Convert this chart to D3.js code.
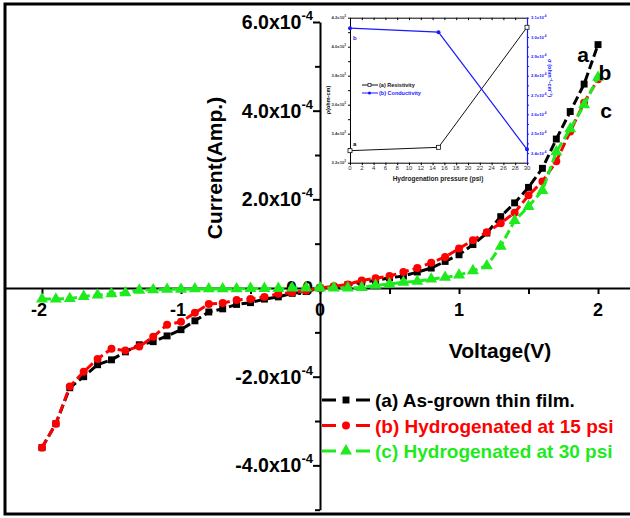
<!DOCTYPE html>
<html lang="en">
<head>
<meta charset="utf-8">
<script src="https://cdnjs.cloudflare.com/ajax/libs/d3/7.8.5/d3.min.js"></script>
<style>
  body { margin: 0; background: #fff; }
  svg { display: block; font-family: "Liberation Sans", Arial, sans-serif; font-weight: bold; }
</style>
</head>
<body>
<script>
// Main I-V data (current in units of 1e-4 A)
var voltage = [-2.0,-1.9,-1.8,-1.7,-1.6,-1.5,-1.4,-1.3,-1.2,-1.1,-1.0,-0.9,-0.8,-0.7,-0.6,-0.5,-0.4,-0.3,-0.2,-0.1,
               0.0,0.1,0.2,0.3,0.4,0.5,0.6,0.7,0.8,0.9,1.0,1.1,1.2,1.3,1.4,1.5,1.6,1.7,1.8,1.9,2.0];
var asGrown = [-3.60,-3.06,-2.25,-2.00,-1.73,-1.62,-1.44,-1.28,-1.21,-1.08,-0.94,-0.74,-0.54,-0.47,-0.37,-0.33,-0.25,-0.20,-0.12,-0.08,
               0.00,0.02,0.07,0.13,0.17,0.23,0.27,0.36,0.45,0.60,0.75,0.98,1.24,1.61,1.92,2.27,2.70,3.36,3.98,4.60,5.49];
var hyd15 = [-3.60,-3.06,-2.22,-1.89,-1.60,-1.37,-1.41,-1.32,-1.10,-0.83,-0.76,-0.56,-0.36,-0.34,-0.27,-0.25,-0.20,-0.13,-0.10,-0.06,
             0.00,0.04,0.08,0.17,0.22,0.27,0.36,0.45,0.57,0.70,0.89,1.08,1.26,1.46,1.70,2.09,2.40,2.86,3.53,4.18,4.71];
var hyd30 = [-0.25,-0.25,-0.24,-0.19,-0.16,-0.13,-0.11,-0.05,-0.04,-0.03,-0.03,-0.02,-0.02,-0.02,-0.02,-0.01,-0.01,-0.01,0.00,0.00,
             0.00,0.00,0.00,0.01,0.06,0.09,0.13,0.15,0.20,0.24,0.29,0.39,0.50,0.94,1.52,1.84,2.20,3.07,3.59,4.13,4.75];
var seriesNames = ["(a) As-grown thin film.", "(b) Hydrogenated at 15 psi", "(c) Hydrogenated at 30 psi"];
var seriesTags = ["a", "b", "c"];
var yTickValues = [-4, -2, 0, 2, 4, 6];
var xTickValues = [-2, -1, 0, 1, 2];

// Inset data
var pressure = [0, 15, 30];
var resistivity = [3.283, 3.306, 4.134];   // x10^3 ohm-cm
var conductivity = [3.046, 3.025, 2.419];  // x10^-4 (ohm-cm)^-1
var insetLeftTicks = [3.2, 3.4, 3.6, 3.8, 4.0, 4.2];
var insetRightTicks = [2.4, 2.5, 2.6, 2.7, 2.8, 2.9, 3.0, 3.1];

var w = 630, h = 518;
var colors = ["#000000", "#ff0000", "#1eea1e"];

var svg = d3.select("body").append("svg").attr("width", w).attr("height", h);

// outer frame
svg.append("rect")
   .attr("x", 5).attr("y", 4).attr("width", 640).attr("height", 510)
   .attr("fill", "none").attr("stroke", "#000").attr("stroke-width", 3);

var xScale = d3.scaleLinear().domain([-2.266, 2.23]).range([5, 630]);
var yScale = d3.scaleLinear().domain([-5, 6]).range([509.7, 22]);

// X axis
var xAxis = d3.axisBottom(xScale)
    .tickValues([-2, -1.5, -1, -0.5, 0, 0.5, 1, 1.5, 2])
    .tickSize(6).tickSizeOuter(0).tickFormat("");
var gx = svg.append("g").attr("transform", "translate(0," + yScale(0) + ")").call(xAxis);
gx.select(".domain").attr("stroke-width", 2);
gx.selectAll(".tick line").attr("stroke-width", 2);

svg.selectAll(".xlab").data(xTickValues).enter().append("text")
   .attr("x", function(d) { return xScale(d) - (d < 0 ? 3 : 0); })
   .attr("y", 316)
   .attr("text-anchor", "middle").attr("font-size", 18)
   .text(function(d) { return d; });

// Y axis
var yAxis = d3.axisLeft(yScale).tickValues(d3.range(-5, 7, 1))
    .tickSize(6).tickSizeOuter(0).tickFormat("");
var gy = svg.append("g").attr("transform", "translate(" + xScale(0) + ",0)").call(yAxis);
gy.select(".domain").attr("stroke-width", 2);
gy.selectAll(".tick line").attr("stroke-width", 2)
  .attr("x2", function(d) { return d % 2 === 0 ? -7 : -5; });

var ylab = svg.selectAll(".ylab").data(yTickValues).enter().append("text")
   .attr("x", 313)
   .attr("y", function(d) { return yScale(d) + 7; })
   .attr("text-anchor", "end").attr("font-size", 19.5);
ylab.append("tspan").text(function(d) { return d === 0 ? "0.0" : d.toFixed(1) + "x10"; });
ylab.filter(function(d) { return d !== 0; })
    .append("tspan").attr("dy", -9).attr("font-size", 13).text("-4");

// axis titles
svg.append("text").attr("transform", "translate(222,168) rotate(-90)")
   .attr("text-anchor", "middle").attr("font-size", 21).text("Current(Amp.)");
svg.append("text").attr("x", 500).attr("y", 358)
   .attr("text-anchor", "middle").attr("font-size", 21).text("Voltage(V)");

// data series
var allSeries = [asGrown, hyd15, hyd30];
var line = d3.line()
    .x(function(d, i) { return xScale(voltage[i]); })
    .y(function(d) { return yScale(d); });

function drawMarker(sel, k, size) {
  var sym = [d3.symbolSquare, d3.symbolCircle, d3.symbolTriangle][k];
  sel.attr("d", d3.symbol().type(sym).size(size[k])).attr("fill", colors[k]);
}
var markerSize = [48, 50, 62];

allSeries.forEach(function(s, k) {
  svg.append("path").datum(s)
     .attr("fill", "none").attr("stroke", colors[k])
     .attr("stroke-width", 3).attr("stroke-dasharray", "9,4")
     .attr("d", line);
  svg.selectAll(".pt" + k).data(s).enter().append("path")
     .attr("transform", function(d, i) { return "translate(" + xScale(voltage[i]) + "," + yScale(d) + ")"; })
     .call(drawMarker, k, markerSize);
});

// curve tags
var tagPos = [[583, 62], [605, 80], [606, 118]];
seriesTags.forEach(function(t, k) {
  svg.append("text").attr("x", tagPos[k][0]).attr("y", tagPos[k][1])
     .attr("text-anchor", "middle").attr("font-size", 21).attr("fill", "#000").text(t);
});

// legend
seriesNames.forEach(function(name, k) {
  var y = 400 + k * 25.5;
  var g = svg.append("g");
  [[322, 336], [356, 370]].forEach(function(seg) {
    g.append("line").attr("x1", seg[0]).attr("x2", seg[1]).attr("y1", y).attr("y2", y)
     .attr("stroke", colors[k]).attr("stroke-width", 3);
  });
  g.append("path").attr("transform", "translate(346," + y + ")").call(drawMarker, k, markerSize);
  g.append("text").attr("x", 375).attr("y", y + 7).attr("font-size", 19)
   .attr("fill", colors[k]).text(name);
});

// ---------- inset ----------
var ix = d3.scaleLinear().domain([0, 30]).range([350, 527]);
var iyL = d3.scaleLinear().domain([3.2, 4.2]).range([162.7, 17.7]);
var iyR = d3.scaleLinear().domain([2.35, 3.1]).range([162.7, 17.7]);
var blue = "#1a1aff";
var inset = svg.append("g").attr("font-size", 4);

var ixAxis = d3.axisBottom(ix).tickValues(d3.range(0, 31, 2)).tickSize(2.5).tickSizeOuter(0).tickFormat("");
inset.append("g").attr("transform", "translate(0,162.7)").call(ixAxis);
var ixTop = d3.axisBottom(ix).tickValues(d3.range(0, 31, 2)).tickSize(2.5).tickSizeOuter(0).tickFormat("");
inset.append("g").attr("transform", "translate(0,17.7)").call(ixTop);
inset.selectAll(".ixlab").data(d3.range(0, 31, 2)).enter().append("text")
     .attr("x", function(d) { return ix(d); }).attr("y", 170)
     .attr("text-anchor", "middle").attr("font-size", 6).attr("font-weight", "normal")
     .attr("fill", "#333").text(function(d) { return d; });

var iyLAxis = d3.axisLeft(iyL).tickValues(d3.range(3.2, 4.21, 0.1)).tickSize(2).tickSizeOuter(0).tickFormat("");
inset.append("g").attr("transform", "translate(350,0)").call(iyLAxis);
var ll = inset.selectAll(".iyl").data(insetLeftTicks).enter().append("text")
     .attr("x", 346).attr("y", function(d) { return iyL(d) + 1.5; })
     .attr("text-anchor", "end").attr("font-size", 4.2).attr("fill", "#333");
ll.append("tspan").text(function(d) { return d.toFixed(1) + "x10"; });
ll.append("tspan").attr("dy", -2).attr("font-size", 3).text("3");

var iyRAxis = d3.axisRight(iyR).tickValues(d3.range(2.35, 3.11, 0.05)).tickSize(2).tickSizeOuter(0).tickFormat("");
var gR = inset.append("g").attr("transform", "translate(527,0)").call(iyRAxis);
gR.select(".domain").attr("stroke", blue).attr("stroke-width", 1.2);
gR.selectAll(".tick line").attr("stroke", blue);
var rl = inset.selectAll(".iyr").data(insetRightTicks).enter().append("text")
     .attr("x", 531).attr("y", function(d) { return iyR(d) + 1.5; })
     .attr("font-size", 4.2).attr("fill", blue);
rl.append("tspan").text(function(d) { return d.toFixed(1) + "x10"; });
rl.append("tspan").attr("dy", -2).attr("font-size", 3).text("-4");

inset.selectAll(".domain").filter(function() { return !this.getAttribute("stroke-width"); })
     .attr("stroke-width", 1);

inset.append("text").attr("x", 438).attr("y", 181).attr("text-anchor", "middle")
     .attr("font-size", 6.5).attr("fill", "#222").text("Hydrogenation pressure (psi)");
inset.append("text").attr("transform", "translate(330,100) rotate(-90)")
     .attr("text-anchor", "middle").attr("font-size", 5.5).text("\u03c1(ohm-cm)");
inset.append("text").attr("transform", "translate(548,78) rotate(90)")
     .attr("text-anchor", "middle").attr("font-size", 5.5).attr("fill", blue)
     .text("\u03c3 (ohm\u207b\u00b9-cm\u207b\u00b9)");

var lineR = d3.line().x(function(d, i) { return ix(pressure[i]); }).y(function(d) { return iyL(d); });
var lineC = d3.line().x(function(d, i) { return ix(pressure[i]); }).y(function(d) { return iyR(d); });
inset.append("path").datum(resistivity).attr("fill", "none").attr("stroke", "#111").attr("stroke-width", 1).attr("d", lineR);
inset.append("path").datum(conductivity).attr("fill", "none").attr("stroke", blue).attr("stroke-width", 1.2).attr("d", lineC);
inset.selectAll(".rp").data(resistivity).enter().append("rect")
     .attr("x", function(d, i) { return ix(pressure[i]) - 2; })
     .attr("y", function(d) { return iyL(d) - 2; })
     .attr("width", 4).attr("height", 4).attr("fill", "#fff").attr("stroke", "#111").attr("stroke-width", 0.8);
inset.selectAll(".cp").data(conductivity).enter().append("circle")
     .attr("cx", function(d, i) { return ix(pressure[i]); })
     .attr("cy", function(d) { return iyR(d); })
     .attr("r", 2).attr("fill", blue);

inset.append("text").attr("x", 353).attr("y", 146).attr("font-size", 6).text("a");
inset.append("text").attr("x", 353).attr("y", 40).attr("font-size", 6).attr("fill", blue).text("b");

// inset legend
inset.append("line").attr("x1", 362).attr("x2", 378).attr("y1", 85).attr("y2", 85).attr("stroke", "#111").attr("stroke-width", 1);
inset.append("rect").attr("x", 368).attr("y", 83.5).attr("width", 3).attr("height", 3)
     .attr("fill", "#fff").attr("stroke", "#111").attr("stroke-width", 0.7);
inset.append("text").attr("x", 379).attr("y", 87).attr("font-size", 5.5).attr("fill", "#111").text("(a) Resistivity");
inset.append("line").attr("x1", 362).attr("x2", 378).attr("y1", 93).attr("y2", 93).attr("stroke", blue).attr("stroke-width", 1);
inset.append("circle").attr("cx", 369.5).attr("cy", 93).attr("r", 1.6).attr("fill", blue);
inset.append("text").attr("x", 379).attr("y", 95).attr("font-size", 5.5).attr("fill", blue).text("(b) Conductivity");
</script>
</body>
</html>
